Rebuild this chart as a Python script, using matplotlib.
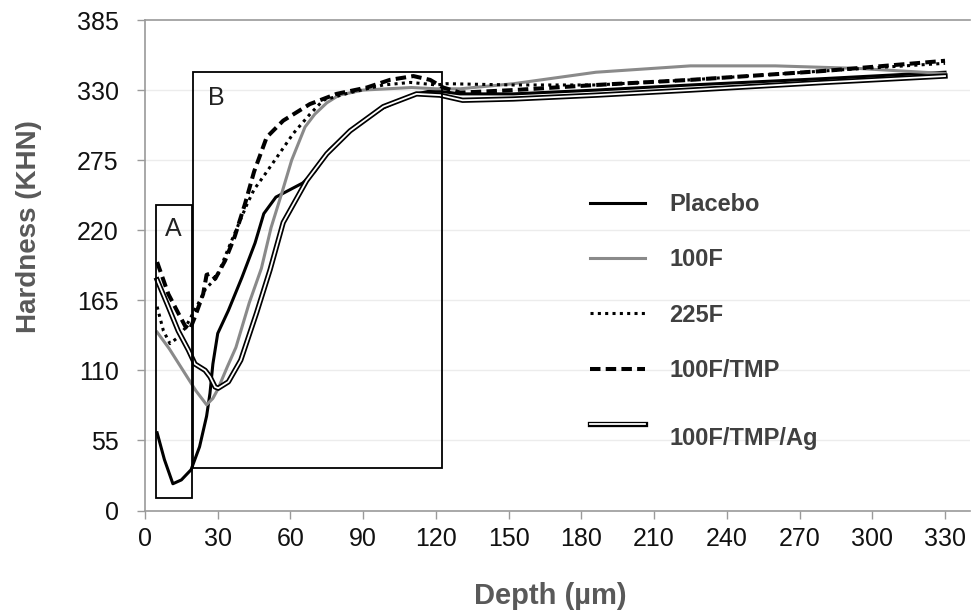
import matplotlib
matplotlib.use("Agg")
import matplotlib.pyplot as plt
import matplotlib.patheffects as pe
from matplotlib.patches import Rectangle
from matplotlib.transforms import Affine2D

plt.rcParams['font.family'] = ['Liberation Sans', 'DejaVu Sans']

# ---- data ----
placebo_x = [5, 8, 11.5, 15, 19, 22.5, 25.4, 26.8, 28, 30, 34.4, 40, 45.4, 49, 54, 60, 65, 70, 76, 84.6, 90, 98.3, 104, 112, 117, 122, 130, 152, 186, 225, 280, 330]
placebo_y = [61, 40, 21, 24, 32, 50, 74, 92, 115, 139, 157, 183, 210, 233, 246, 252, 257, 266, 283, 298, 306, 316, 321, 327, 329, 329, 327, 327, 330, 334, 339, 344]

f100_x = [5, 10, 14, 18, 21, 25.4, 28, 30, 34, 37.5, 43, 48, 52, 56.4, 60.5, 66, 70, 75, 80, 90, 100, 110, 120, 130, 152, 186, 225, 260, 294, 330]
f100_y = [140, 127, 115, 103, 94, 83, 88, 95, 113, 128, 163, 190, 222, 249, 275, 301, 311, 320, 326, 330, 331, 332, 331, 331, 335, 344, 349, 349, 347, 343]

f225_x = [5, 7.6, 10.3, 13, 16.5, 19, 22.7, 25, 29.6, 34, 38, 42, 45, 48.8, 54.3, 61.2, 68, 73.5, 84.6, 98.3, 109.5, 120.3, 124.4, 152, 186, 225, 280, 330]
f225_y = [160, 141, 131, 135, 143, 152, 165, 174, 183, 204, 222, 240, 252, 262, 277, 296, 311, 322, 328, 334, 336, 334, 335, 334, 334, 338, 345, 351]

tmp_x = [5, 9.6, 13.7, 16.5, 18.5, 20.6, 24, 25.4, 27, 29, 33, 37, 41.3, 45, 50.2, 57, 68, 79, 91.5, 101, 110.7, 117.6, 123, 130, 152, 186, 225, 280, 330]
tmp_y = [195, 170, 155, 145, 142, 152, 170, 185, 186, 182, 196, 215, 241, 266, 293, 306, 319, 327, 332, 338, 341, 338, 332, 328, 330, 334, 338, 345, 353]

ag_x = [5, 9.6, 13.7, 17.9, 20.6, 24.8, 26.8, 28.9, 30.2, 34.4, 39.5, 46, 51.6, 57, 66.7, 75, 84.6, 98.3, 112, 121.7, 131, 152, 186, 225, 280, 330]
ag_y = [181, 160, 141, 126, 115, 110, 105, 97, 96, 101, 118, 155, 189, 226, 259, 280, 298, 317, 327, 326, 322, 323, 326, 330, 336, 341]

x_ticks = [0, 30, 60, 90, 120, 150, 180, 210, 240, 270, 300, 330]
y_ticks = [0, 55, 110, 165, 220, 275, 330, 385]

box_a = (4.5, 9.8, 19.4, 240.1)    # x0, y0, x1, y1
box_b = (19.9, 33.5, 122.4, 344.2)

# ---- figure ----
fig = plt.figure(figsize=(9.74, 6.16), dpi=100)
ax = fig.add_axes([145/974, (616-510.5)/616, 825/974, 490.5/616])
ax.set_xlim(0, 340.3)
ax.set_ylim(0, 385)

grid_c = '#ececec'
for yt in y_ticks[1:-1]:
    ax.axhline(yt, color=grid_c, lw=1.0, zorder=0)

ax.spines['right'].set_visible(False)
for s in ['left', 'bottom', 'top']:
    ax.spines[s].set_color('#9a9a9a')
    ax.spines[s].set_linewidth(1.2)

ax.set_xticks(x_ticks)
ax.set_yticks(y_ticks)
ax.tick_params(axis='both', direction='out', length=6, width=1.0, color='#9a9a9a',
               labelsize=18, labelcolor='#111111')
ax.tick_params(axis='y', pad=13)
ax.tick_params(axis='x', pad=6)

lw = 2.2
ax.plot(placebo_x, placebo_y, color='black', lw=lw, label='Placebo')
ax.plot(f100_x, f100_y, color='#8a8a8a', lw=lw, label='100F')
ax.plot(f225_x, f225_y, color='black', lw=lw, linestyle=(0, (1, 1.4)), label='225F')
ax.plot(tmp_x, tmp_y, color='black', lw=2.9, linestyle=(0, (2.6, 1.3)), label='100F/TMP')
ax.plot(ag_x, ag_y, color='white', lw=1.3, label='100F/TMP/Ag',
        path_effects=[pe.Stroke(linewidth=3.8, foreground='black'), pe.Normal()])

for (x0, y0, x1, y1) in (box_a, box_b):
    ax.add_patch(Rectangle((x0, y0), x1 - x0, y1 - y0, fill=False, edgecolor='black', lw=1.3, zorder=5))
ax.text(11.6, 221, 'A', fontsize=18, color='#222222', ha='center', va='center')
ax.text(29.3, 324, 'B', fontsize=18, color='#222222', ha='center', va='center')

ax.set_xlabel('Depth (µm)', fontsize=21, fontweight='bold', color='#595959')
ax.set_ylabel('Hardness (KHN)', fontsize=20, fontweight='bold', color='#595959')
ax.xaxis.set_label_coords((550 - 145) / 825, (510.5 - 596) / 490.5)
ax.yaxis.set_label_coords((29 - 145) / 825, (510.5 - 227) / 490.5)
ax.xaxis.label.set_va('center')
ax.yaxis.label.set_va('center')

leg = ax.legend(loc='upper left', bbox_to_anchor=(590/974, 1 - 193/616), bbox_transform=fig.transFigure,
                frameon=False, fontsize=17, handlelength=2.35, handletextpad=1.0,
                labelspacing=1.37, borderpad=0, borderaxespad=0)
for t in leg.get_texts():
    t.set_fontweight('bold')
    t.set_color('#404040')
last = leg.get_texts()[-1]
last.set_transform(last.get_transform() + Affine2D().translate(0, -13))

fig.savefig('out.png', dpi=100)
